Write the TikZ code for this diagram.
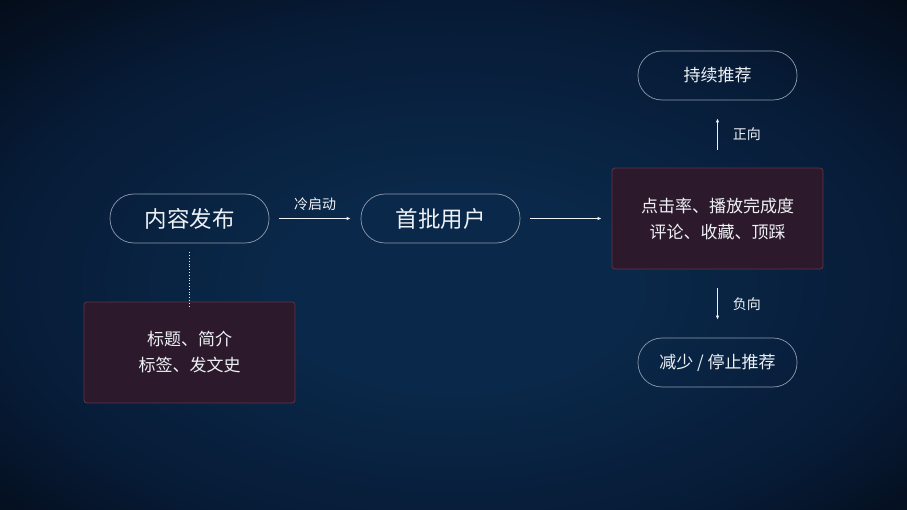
\documentclass[tikz,border=0pt]{standalone}
\usepackage{fontspec}
\setmainfont{Noto Sans CJK SC}
\usetikzlibrary{arrows.meta}
\definecolor{bgin}{HTML}{0A2849}
\definecolor{bgmid}{HTML}{071B36}
\definecolor{bgout}{HTML}{03070F}
\definecolor{pillline}{HTML}{8E9BAE}
\definecolor{txt}{HTML}{EEF1F5}
\definecolor{boxfill}{HTML}{2C1A2C}
\definecolor{boxline}{HTML}{5E3446}
\pgfdeclareradialshading{bgshade}{\pgfpoint{0bp}{-4bp}}{color(0bp)=(bgin); color(10bp)=(bgin); color(26bp)=(bgmid); color(40bp)=(bgout); color(60bp)=(bgout)}
\begin{document}
\begin{tikzpicture}[x=1pt,y=-1pt,
  pill/.style={draw=pillline, line width=0.7pt, rounded corners=24pt, minimum width=159pt, minimum height=49pt, inner sep=0pt, text=txt},
  bigtxt/.style={font=\fontsize{22.5}{26}\selectfont},
  smalltxt/.style={font=\fontsize{17}{26}\selectfont},
  infobox/.style={draw=boxline, fill=boxfill, line width=0.8pt, rounded corners=3pt, minimum width=211pt, minimum height=101pt, inner sep=0pt, text=txt, align=center, font=\fontsize{17}{26}\selectfont},
  lbl/.style={text=txt, font=\fontsize{14}{16}\selectfont, inner sep=1pt},
  arr/.style={draw=txt, line width=0.9pt, -{Latex[length=4pt,width=3.5pt]}}
]
\useasboundingbox (0,0) rectangle (907,510);
\shade[shading=bgshade] (0,0) rectangle (907,510);

\node[pill,bigtxt] (publish) at (189.5,218.5) {内容发布};
\node[pill,bigtxt] (first) at (440.5,218.5) {首批用户};
\node[infobox] (metrics) at (717.5,218.5) {点击率、播放完成度\\评论、收藏、顶踩};
\node[pill,smalltxt] (keep) at (717.5,75.5) {持续推荐};
\node[pill,smalltxt] (stop) at (717.5,362.5) {减少 / 停止推荐};
\node[infobox] (meta) at (189.5,352.5) {标题、简介\\标签、发文史};

\draw[arr] ([xshift=10pt]publish.east) -- node[lbl, above=6pt] (cold) {冷启动} ([xshift=-10pt]first.west);
\draw[arr] ([xshift=10pt]first.east) -- ([xshift=-10pt]metrics.west);
\draw[arr] ([yshift=18pt]metrics.north) -- node[lbl, right=14pt] (pos) {正向} ([yshift=-18pt]keep.south);
\draw[arr] ([yshift=-19pt]metrics.south) -- node[lbl, right=14pt] (neg) {负向} ([yshift=18pt]stop.north);
\draw[draw=txt, line width=0.8pt, dotted] ([yshift=-9pt]publish.south) -- ([yshift=-6pt]meta.north);
\end{tikzpicture}
\end{document}
